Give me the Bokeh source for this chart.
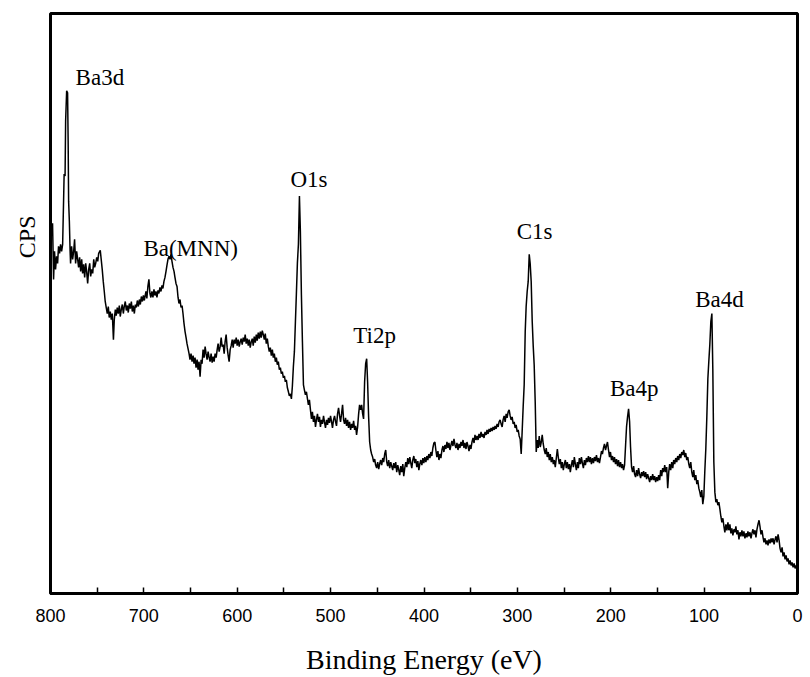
from bokeh.plotting import figure
from bokeh.models import Range1d, FixedTicker, Title
from bokeh.core.properties import value
from bokeh.embed import file_html
from bokeh.resources import INLINE

# Binding energy (eV)
energy_ev = [
    797.8, 796.7, 795.7, 794.6, 793.5, 792.4, 791.4, 790.3, 789.2, 788.1,
    787.0, 786.0, 785.4, 784.4, 783.8, 782.7, 781.7, 781.1, 780.6, 779.8,
    779.0, 778.5, 777.4, 776.3, 775.2, 774.2, 773.1, 772.0, 770.9, 769.9,
    768.8, 767.7, 766.6, 765.6, 764.5, 763.4, 762.3, 761.3, 760.2, 759.1,
    758.0, 757.0, 755.9, 754.8, 753.7, 752.7, 751.6, 750.5, 749.4, 748.4,
    746.7, 745.7, 744.6, 743.5, 742.4, 741.4, 740.3, 739.2, 738.1, 737.1,
    736.0, 734.9, 733.8, 732.6, 731.7, 730.6, 729.6, 728.5, 727.4, 726.3,
    725.3, 724.2, 723.1, 722.0, 721.0, 719.9, 718.8, 717.7, 716.7, 715.6,
    714.5, 713.4, 712.4, 711.3, 710.2, 709.1, 708.1, 707.0, 705.9, 704.8,
    703.8, 702.7, 701.6, 700.5, 699.5, 697.8, 696.8, 695.7, 694.6, 693.5,
    692.5, 691.4, 690.3, 689.2, 688.2, 687.1, 686.0, 684.9, 683.9, 682.8,
    681.7, 680.6, 679.6, 678.5, 677.4, 676.3, 675.3, 674.2, 673.1, 672.0,
    671.0, 669.9, 668.8, 667.7, 666.7, 665.6, 664.5, 663.4, 662.4, 661.3,
    660.2, 659.1, 658.1, 657.0, 655.9, 654.8, 653.8, 652.7, 651.6, 650.6,
    649.5, 648.4, 647.3, 646.3, 645.2, 644.1, 643.0, 642.0, 640.9, 639.8,
    638.7, 637.7, 636.6, 635.5, 634.4, 633.4, 632.3, 631.2, 630.1, 629.1,
    628.0, 626.9, 625.8, 624.8, 623.7, 622.6, 621.5, 620.5, 619.4, 618.3,
    617.2, 616.2, 615.1, 614.0, 613.0, 611.9, 610.8, 609.7, 608.7, 607.6,
    606.5, 605.4, 604.4, 603.3, 602.2, 601.1, 600.1, 599.0, 597.9, 596.8,
    595.8, 594.7, 593.6, 592.5, 591.5, 590.4, 589.3, 588.2, 587.2, 586.1,
    585.0, 583.9, 582.9, 581.8, 580.7, 579.6, 578.6, 577.5, 576.4, 575.3,
    574.3, 573.2, 572.1, 571.0, 570.0, 568.9, 567.8, 566.7, 565.7, 564.6,
    563.5, 562.4, 561.4, 560.3, 559.2, 558.1, 557.1, 556.0, 554.9, 553.8,
    552.8, 551.7, 550.6, 549.5, 548.5, 547.4, 546.3, 545.2, 544.2, 543.1,
    542.0, 541.0, 539.9, 538.8, 537.7, 536.7, 535.6, 534.5, 533.4, 532.4,
    531.3, 530.2, 529.1, 528.1, 527.0, 525.9, 524.8, 523.8, 522.7, 521.6,
    520.5, 519.5, 518.4, 517.3, 516.2, 515.2, 514.1, 513.0, 511.9, 510.9,
    509.8, 508.7, 507.6, 506.6, 505.5, 504.4, 503.3, 502.3, 501.2, 500.1,
    499.0, 498.0, 496.9, 495.8, 494.7, 493.7, 492.6, 491.5, 490.4, 489.4,
    488.3, 487.2, 486.1, 485.1, 484.0, 482.9, 481.8, 480.8, 479.7, 478.6,
    477.5, 476.5, 475.4, 474.3, 473.2, 472.2, 471.1, 470.0, 469.0, 467.9,
    466.8, 465.7, 464.7, 463.6, 462.5, 461.4, 460.4, 459.3, 458.2, 457.1,
    456.1, 455.0, 453.9, 452.8, 451.8, 450.7, 449.6, 448.5, 447.5, 446.4,
    445.3, 444.2, 443.2, 442.1, 441.0, 439.9, 438.9, 437.8, 436.7, 435.6,
    434.6, 433.5, 432.4, 431.3, 430.3, 429.2, 428.1, 427.0, 426.0, 424.9,
    423.8, 422.7, 421.7, 420.6, 419.5, 418.4, 417.4, 416.3, 415.2, 414.1,
    413.1, 412.0, 410.9, 409.8, 408.8, 407.7, 406.6, 405.5, 404.5, 403.4,
    402.3, 401.2, 400.2, 399.1, 398.0, 396.9, 395.9, 394.8, 393.7, 392.6,
    391.6, 390.5, 389.4, 388.3, 387.3, 386.2, 385.1, 384.0, 383.0, 381.9,
    380.8, 379.7, 378.7, 377.6, 376.5, 375.4, 374.4, 373.3, 372.2, 371.1,
    370.1, 369.0, 367.9, 366.8, 365.8, 364.7, 363.6, 362.5, 361.5, 360.4,
    359.3, 358.2, 357.2, 356.1, 355.0, 354.0, 352.9, 351.8, 350.7, 349.7,
    348.6, 347.5, 346.4, 345.4, 344.3, 343.2, 342.1, 341.1, 340.0, 338.9,
    337.8, 336.8, 335.7, 334.6, 333.5, 332.5, 331.4, 330.3, 329.2, 328.2,
    327.1, 326.0, 324.9, 323.9, 322.8, 321.7, 320.6, 319.6, 318.5, 317.4,
    316.3, 315.3, 314.2, 313.1, 312.0, 311.0, 309.9, 308.8, 307.7, 306.7,
    305.6, 304.5, 303.4, 302.4, 301.3, 300.2, 299.1, 298.1, 297.0, 295.9,
    294.9, 293.8, 292.7, 291.6, 290.6, 289.5, 288.4, 287.3, 286.3, 285.2,
    284.1, 283.0, 282.0, 280.9, 279.8, 278.7, 277.7, 276.6, 275.5, 274.4,
    273.4, 272.3, 271.2, 270.1, 269.1, 268.0, 266.9, 265.8, 264.8, 263.7,
    262.6, 261.5, 260.5, 259.4, 258.3, 257.2, 256.2, 255.1, 254.0, 252.9,
    251.9, 250.8, 249.7, 248.6, 247.6, 246.5, 245.4, 244.3, 243.3, 242.2,
    241.1, 240.0, 239.0, 237.9, 236.8, 235.7, 234.7, 233.6, 232.5, 231.4,
    230.4, 229.3, 228.2, 227.1, 226.1, 225.0, 223.9, 222.8, 221.8, 220.7,
    219.6, 218.5, 217.5, 216.4, 215.3, 214.2, 213.2, 212.1, 211.0, 209.9,
    208.9, 207.8, 206.7, 205.6, 204.6, 203.5, 202.4, 201.3, 200.3, 199.2,
    198.1, 197.0, 196.0, 194.9, 193.8, 192.7, 191.7, 190.6, 189.5, 188.4,
    187.4, 186.3, 185.2, 184.1, 183.1, 182.0, 180.9, 179.8, 178.8, 177.7,
    176.6, 175.5, 174.5, 173.4, 172.3, 171.2, 170.2, 169.1, 168.0, 166.9,
    165.9, 164.8, 163.7, 162.6, 161.6, 160.5, 159.4, 158.3, 157.3, 156.2,
    155.1, 154.0, 153.0, 151.9, 150.8, 149.7, 148.7, 147.6, 146.5, 145.4,
    144.4, 143.3, 142.2, 141.2, 140.1, 139.0, 137.9, 136.9, 135.8, 134.7,
    133.6, 132.6, 131.5, 130.4, 129.3, 128.3, 127.2, 126.1, 125.0, 124.0,
    122.9, 121.8, 120.7, 119.7, 118.6, 117.5, 116.4, 115.4, 114.3, 113.2,
    112.1, 111.1, 110.0, 108.9, 107.8, 106.8, 105.7, 104.6, 103.6, 102.5,
    101.4, 100.3, 99.3, 98.2, 97.1, 96.0, 95.0, 93.9, 92.8, 91.7,
    90.7, 89.6, 88.5, 87.4, 86.4, 85.3, 84.2, 83.1, 82.1, 81.0,
    79.9, 78.8, 77.8, 76.7, 75.6, 74.5, 73.5, 72.4, 71.3, 70.3,
    69.2, 68.1, 67.0, 66.0, 64.9, 63.8, 62.7, 61.7, 60.6, 59.5,
    58.4, 57.4, 56.3, 55.2, 54.1, 53.1, 52.0, 50.9, 49.8, 48.8,
    47.7, 46.6, 45.5, 44.5, 43.4, 42.3, 41.2, 40.2, 39.1, 38.0,
    36.9, 35.9, 34.8, 33.7, 32.6, 31.6, 30.5, 29.4, 28.3, 27.3,
    26.2, 25.1, 24.0, 23.0, 21.9, 20.8, 19.7, 18.7, 17.6, 16.5,
    15.5, 14.4, 13.3, 12.2, 11.2, 10.1, 9.0, 7.9, 6.9, 5.8,
    4.7, 3.6, 2.6, 1.5, 0.4,
]

# Intensity (arbitrary CPS units)
cps = [
    369, 313, 341, 323, 336, 329, 346, 339, 348, 341,
    348, 391, 418, 416, 471, 501, 499, 451, 391, 371,
    341, 329, 346, 333, 341, 353, 329, 341, 333, 325,
    335, 321, 333, 319, 328, 315, 329, 321, 309, 323,
    329, 316, 323, 319, 333, 325, 329, 335, 331, 339,
    342, 333, 323, 311, 301, 291, 285, 279, 286, 275,
    281, 273, 279, 253, 273, 283, 277, 285, 279, 287,
    276, 283, 288, 279, 286, 291, 282, 287, 280, 289,
    284, 291, 281, 287, 279, 288, 285, 292, 286, 293,
    288, 296, 291, 297, 292, 301, 294, 306, 313, 299,
    295, 301, 295, 303, 297, 301, 295, 302, 299, 305,
    301, 307, 304, 311, 315, 321, 327, 333, 336, 333,
    338, 331, 325, 321, 315, 309, 306, 295, 289, 293,
    285, 287, 279, 269, 261, 255, 249, 244, 239, 233,
    239, 231, 237, 229, 235, 225, 233, 223, 231, 216,
    233, 229, 243, 235, 246, 239, 233, 241, 235, 231,
    239, 230, 236, 231, 239, 235, 243, 249, 241, 246,
    255, 246, 248, 239, 251, 258, 245, 237, 231, 243,
    247, 253, 245, 253, 249, 255, 247, 253, 246, 251,
    254, 248, 255, 251, 258, 249, 254, 247, 253, 245,
    251, 254, 247, 256, 250, 258, 252, 260, 254, 261,
    255, 262, 258, 253, 259, 249, 254, 246, 241, 245,
    237, 243, 235, 239, 231, 235, 228, 231, 223, 225,
    219, 221, 215, 217, 211, 213, 205, 201, 197, 199,
    194, 206, 226, 241, 271, 298, 329, 348, 396, 361,
    298, 251, 208, 203, 198, 201, 194, 188, 193, 183,
    174, 181, 171, 177, 166, 173, 179, 171, 176, 166,
    173, 169, 177, 171, 165, 173, 168, 175, 170, 177,
    171, 165, 173, 177, 171, 167, 179, 185, 177, 171,
    179, 188, 173, 169, 175, 167, 173, 165, 171, 163,
    169, 165, 172, 163, 167, 158, 166, 179, 188, 183,
    188, 179, 174, 211, 229, 234, 211, 176, 151, 143,
    139, 136, 131, 134, 128, 125, 131, 124, 129, 133,
    128, 135, 131, 139, 143, 131, 127, 133, 125, 131,
    127, 123, 130, 125, 131, 121, 128, 123, 118, 127,
    121, 129, 117, 125, 131, 126, 135, 129, 136, 130,
    125, 133, 137, 130, 134, 126, 132, 123, 129, 133,
    128, 135, 130, 136, 131, 137, 133, 139, 135, 141,
    137, 145, 150, 151, 143, 136, 142, 133, 139, 135,
    143, 147, 141, 148, 144, 151, 145, 150, 143, 148,
    152, 147, 154, 148, 145, 150, 143, 149, 145, 151,
    147, 153, 145, 150, 144, 151, 147, 142, 148, 144,
    151, 155, 150, 158, 153, 157, 153, 159, 155, 161,
    156, 159, 155, 161, 158, 163, 159, 164, 161, 165,
    162, 166, 163, 167, 164, 169, 166, 171, 173, 169,
    166, 173, 177, 171, 179, 175, 181, 183, 177, 173,
    176, 169, 171, 165, 168, 161, 163, 157, 154, 139,
    161, 186, 208, 261, 286, 301, 311, 338, 329, 311,
    271, 246, 228, 191, 141, 153, 145, 157, 146, 151,
    158, 149, 143, 139, 145, 136, 141, 133, 139, 131,
    136, 129, 133, 126, 135, 144, 136, 129, 134, 125,
    131, 123, 129, 133, 125, 131, 124, 129, 121, 128,
    133, 126, 136, 129, 123, 131, 125, 135, 129, 136,
    130, 125, 133, 128, 135, 131, 137, 131, 136, 129,
    135, 130, 136, 132, 138, 131, 135, 130, 136, 142,
    139, 145, 149, 143, 147, 151, 143, 136, 141, 133,
    137, 131, 136, 129, 134, 127, 133, 126, 131, 125,
    129, 123, 128, 148, 166, 176, 184, 171, 146, 126,
    121, 127, 119, 116, 123, 117, 125, 119, 115, 121,
    117, 122, 116, 121, 114, 119, 115, 111, 117, 113,
    119, 113, 117, 111, 116, 112, 118, 113, 123, 117,
    125, 121, 128, 121, 126, 105, 121, 129, 123, 131,
    125, 133, 129, 135, 131, 137, 133, 139, 135, 141,
    138, 143, 136, 140, 133, 136, 129, 125, 131, 121,
    116, 123, 113, 118, 109, 113, 105, 101, 96, 103,
    89, 97, 121, 144, 176, 214, 231, 248, 271, 279,
    224, 131, 101, 91, 94, 88, 91, 84, 77, 71,
    75, 67, 61, 69, 63, 71, 63, 69, 60, 65,
    58, 64, 61, 67, 59, 63, 54, 61, 57, 63,
    57, 62, 55, 60, 56, 62, 57, 61, 55, 60,
    64, 59, 63, 56, 64, 69, 73, 67, 59, 63,
    56, 51, 55, 49, 53, 48, 54, 50, 55, 51,
    55, 49, 54, 57, 51, 59, 53, 45, 41, 46,
    37, 41, 34, 38, 32, 35, 29, 33, 28, 31,
    26, 30, 25, 28, 24,
]

assert len(energy_ev) == len(cps), (len(energy_ev), len(cps))

# Peak annotations: name and anchor (left edge / baseline) in data units
peak_names = ["Ba3d", "Ba(MNN)", "O1s", "Ti2p", "C1s", "Ba4p", "Ba4d"]
peak_label_ev = [773.1, 700.5, 543.1, 475.7, 300.7, 200.8, 109.5]
peak_label_cps = [514, 344, 413, 257, 361, 204, 293]

# x axis ticks (every 50 eV, labelled every 100 eV)
x_ticks = [800, 750, 700, 650, 600, 550, 500, 450, 400, 350, 300, 250, 200, 150, 100, 50, 0]
x_unlabelled = [750, 650, 550, 450, 350, 250, 150, 50]

p = figure(width=808, height=677,
           x_range=Range1d(800, 0), y_range=Range1d(0, 578),
           output_backend="svg", toolbar_location=None,
           min_border_left=50, min_border_right=11, min_border_top=13,
           min_border_bottom=0)

p.background_fill_color = "white"
p.border_fill_color = "white"
p.xgrid.visible = False
p.ygrid.visible = False
p.outline_line_color = "black"
p.outline_line_width = 3
p.outline_line_alpha = 1.0

p.line(energy_ev, cps, line_color="black", line_width=1.5)

p.text(x=peak_label_ev, y=peak_label_cps, text=peak_names,
       text_font=value("Liberation Serif"), text_font_size="23px",
       text_align="left", text_baseline="alphabetic", text_color="black")

xa = p.xaxis[0]
xa.ticker = FixedTicker(ticks=x_ticks)
xa.major_label_overrides = {t: "" for t in x_unlabelled}
xa.major_tick_in = 6
xa.major_tick_out = 0
xa.minor_tick_in = 0
xa.minor_tick_out = 0
xa.major_tick_line_width = 1.5
xa.major_tick_line_color = "black"
xa.axis_line_width = 3
xa.axis_line_color = "black"
xa.major_label_text_font = "Liberation Sans"
xa.major_label_text_font_size = "18px"
xa.major_label_text_color = "black"
xa.major_label_standoff = 15
xa.axis_label = "Binding Energy (eV)"
xa.axis_label_text_font = "Liberation Serif"
xa.axis_label_text_font_size = "28px"
xa.axis_label_text_font_style = "normal"
xa.axis_label_text_color = "black"
xa.axis_label_standoff = 19

p.yaxis.visible = False

p.add_layout(Title(text="CPS", align="right", offset=202, standoff=21,
                   text_font="Liberation Serif", text_font_size="24px",
                   text_font_style="normal", text_color="black"), "left")

open("out.html", "w").write(file_html(p, INLINE))
